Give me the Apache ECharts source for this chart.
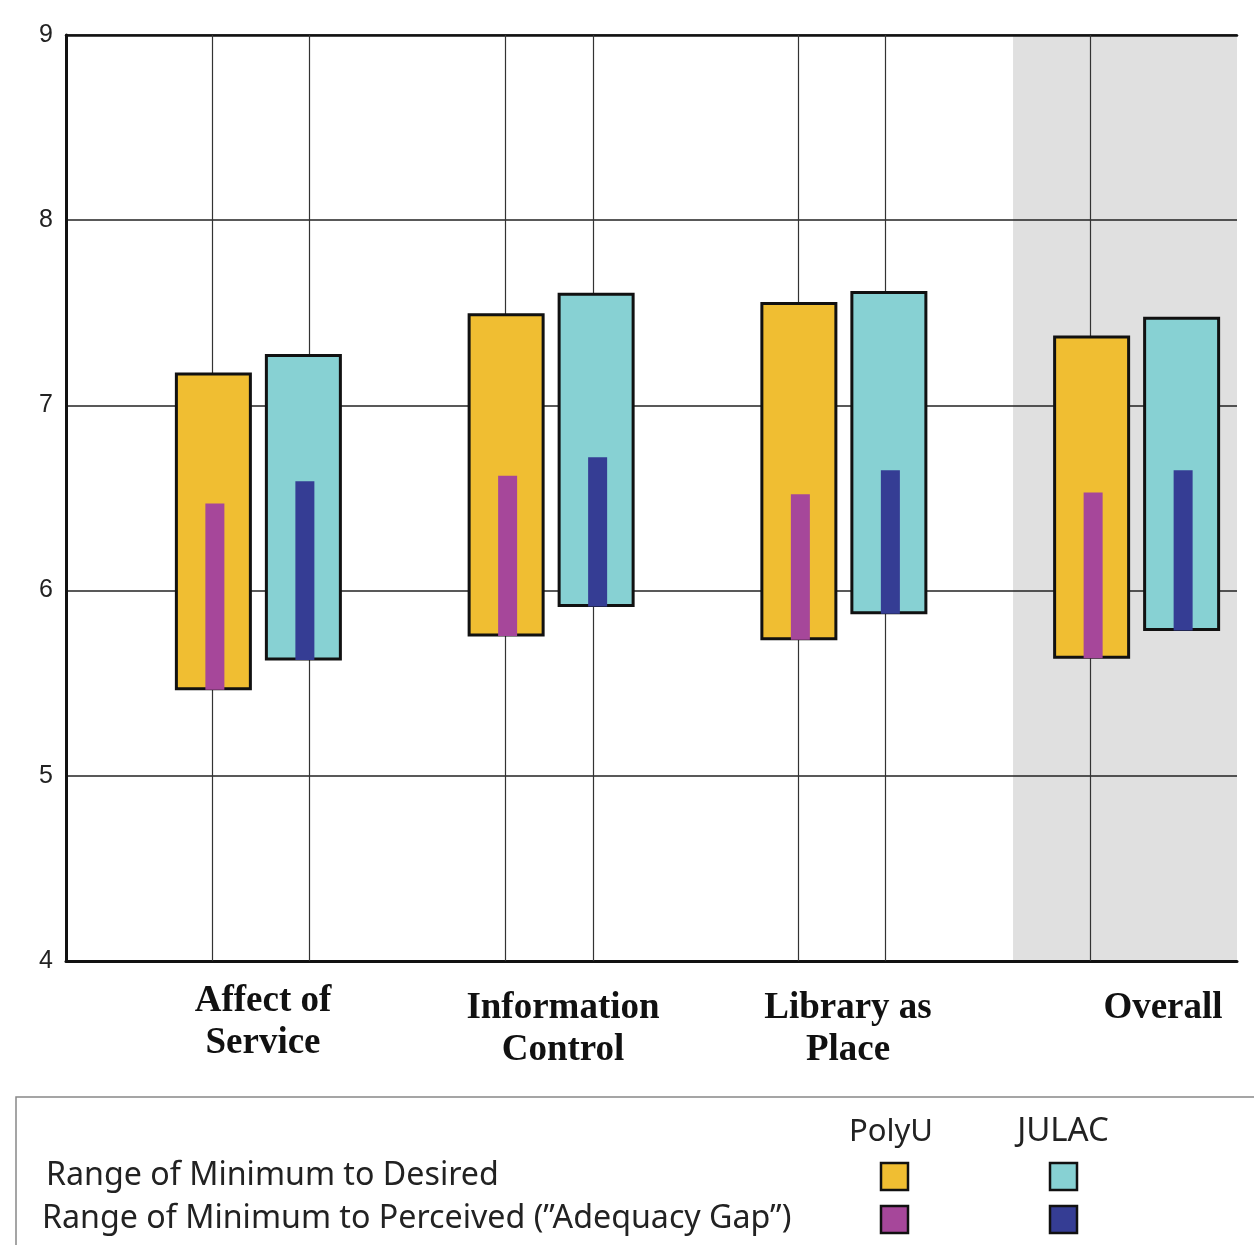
<!DOCTYPE html>
<html>
<head>
<meta charset="utf-8">
<script src="https://cdn.jsdelivr.net/npm/echarts@6/dist/echarts.min.js"></script>
<style>html,body{margin:0;padding:0;background:#fff;}#chart{width:1254px;height:1245px;}</style>
</head>
<body>
<div id="chart"></div>
<script>
// ---- data ----
var categories = ['Affect of\nService', 'Information\nControl', 'Library as\nPlace', 'Overall'];
var polyuMin = [5.47, 5.76, 5.74, 5.64];
var polyuDesired = [7.17, 7.49, 7.55, 7.37];
var polyuPerceived = [6.47, 6.62, 6.52, 6.53];
var julacMin = [5.63, 5.92, 5.88, 5.79];
var julacDesired = [7.27, 7.60, 7.61, 7.47];
var julacPerceived = [6.59, 6.72, 6.65, 6.65];
var yTicks = [4, 5, 6, 7, 8, 9];
var legendGroups = ['PolyU', 'JULAC'];
var legendRows = ['Range of Minimum to Desired', 'Range of Minimum to Perceived (\u201DAdequacy Gap\u201D)'];

// ---- layout / style ----
var C = {
  yellow: '#F0BE32', cyan: '#87D1D3', purple: '#A6479A', navy: '#353D94', gray: '#E0E0E0'
};
var barW = 74, innerW = 19;

function makeRender(offsetPx, outerColor, innerColor) {
  return function (params, api) {
    var i = api.value(0);
    var top = api.coord([i + 0.5, api.value(2)]);
    var bot = api.coord([i + 0.5, api.value(1)]);
    var per = api.coord([i + 0.5, api.value(3)]);
    var cx = top[0] + offsetPx;
    return {
      type: 'group',
      children: [
        { type: 'rect', shape: { x: cx - barW / 2, y: top[1], width: barW, height: bot[1] - top[1] },
          style: { fill: outerColor, stroke: '#111', lineWidth: 3 } },
        { type: 'rect', shape: { x: cx - innerW / 2 + 1.5, y: per[1], width: innerW, height: bot[1] - per[1] + 1 },
          style: { fill: innerColor } }
      ]
    };
  };
}

function rows(mins, maxs, pers) {
  return categories.map(function (c, i) { return [i, mins[i], maxs[i], pers[i]]; });
}

var labelX = [263, 563, 848, 1163];
var labelY = [980, 987, 987, 987];
var graphic = [];
categories.forEach(function (c, i) {
  graphic.push({ type: 'text', x: labelX[i], y: labelY[i],
    style: { text: c, fill: '#111', fontFamily: 'Liberation Serif', fontWeight: 'bold', fontSize: 37,
      lineHeight: 42, textAlign: 'center', textVerticalAlign: 'top' } });
});
// legend box
graphic.push({ type: 'rect', shape: { x: 16, y: 1097, width: 1300, height: 300 },
  style: { fill: 'none', stroke: '#888', lineWidth: 1.5 } });
var legendColX = [891, 1063];
var swatchX = [881, 1050];
var rowY = [1176, 1219];
var swatch = [[C.yellow, C.purple], [C.cyan, C.navy]];
legendGroups.forEach(function (g, gi) {
  graphic.push({ type: 'text', x: legendColX[gi], y: 1132,
    style: { text: g, fill: '#222', fontFamily: 'Noto Sans', fontSize: gi === 0 ? 31 : 33, textAlign: 'center', textVerticalAlign: 'middle' } });
  rowY.forEach(function (ry, ri) {
    graphic.push({ type: 'rect', shape: { x: swatchX[gi], y: ry - 13, width: 27, height: 27 },
      style: { fill: swatch[gi][ri], stroke: '#111', lineWidth: 2.5 } });
  });
});
legendRows.forEach(function (t, ri) {
  graphic.push({ type: 'text', x: ri === 0 ? 46 : 42, y: rowY[ri],
    style: { text: t, fill: '#222', fontFamily: 'Noto Sans', fontSize: 32.2, textAlign: 'left', textVerticalAlign: 'middle' } });
});

var option = {
  backgroundColor: '#fff',
  animation: false,
  grid: { left: 66, right: 17, top: 35, bottom: 284, containLabel: false },
  xAxis: [
    { type: 'value', min: 0, max: 4, position: 'bottom',
      axisLine: { show: true, lineStyle: { color: '#111', width: 3 } },
      axisTick: { show: false }, axisLabel: { show: false }, splitLine: { show: false } },
    { type: 'value', min: 0, max: 4, position: 'top',
      axisLine: { show: true, lineStyle: { color: '#111', width: 2.5 } },
      axisTick: { show: false }, axisLabel: { show: false }, splitLine: { show: false } }
  ],
  yAxis: {
    type: 'value', min: yTicks[0], max: yTicks[yTicks.length - 1], interval: 1,
    axisLine: { show: true, lineStyle: { color: '#111', width: 3 } },
    axisTick: { show: false },
    axisLabel: { color: '#222', fontFamily: 'Liberation Sans', fontSize: 25, margin: 13 },
    splitLine: { show: true, lineStyle: { color: '#222', width: 1.5 } }
  },
  graphic: graphic,
  series: [
    { type: 'line', data: [], z: -1, silent: true,
      markArea: { silent: true, z: -1, itemStyle: { color: C.gray },
        data: [[{ xAxis: 3.235, yAxis: 4 }, { xAxis: 4, yAxis: 9 }]] } },
    { type: 'line', data: [], z: 1, silent: true,
      markLine: { silent: true, z: 1, symbol: 'none', label: { show: false },
        lineStyle: { color: '#333', width: 1.2, type: 'solid' },
        data: [0.5, 0.827, 1.496, 1.8, 2.497, 2.801, 3.498].map(function (v) { return { xAxis: v }; }) } },
    { name: 'PolyU', type: 'custom', z: 3, renderItem: makeRender(1, C.yellow, C.purple),
      data: rows(polyuMin, polyuDesired, polyuPerceived) },
    { name: 'JULAC', type: 'custom', z: 3, renderItem: makeRender(91, C.cyan, C.navy),
      data: rows(julacMin, julacDesired, julacPerceived) }
  ]
};
var chart = echarts.init(document.getElementById('chart'), null, { renderer: 'canvas' });
chart.setOption(option);
</script>
</body>
</html>
